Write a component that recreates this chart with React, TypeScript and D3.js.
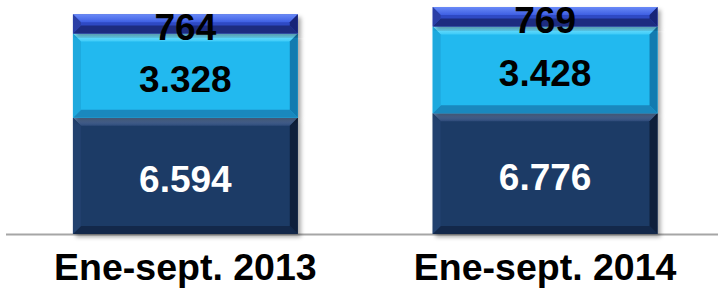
import React from "react";
import * as d3 from "d3";

const categories = ["Ene-sept. 2013", "Ene-sept. 2014"];
const seriesKeys = ["base", "mid", "top"];
const baseValues = [6594, 6776];
const midValues = [3328, 3428];
const topValues = [764, 769];

const W = 718;
const H = 288;

const palettes: Record<string, any> = {
  base: { face: "#1F3B66", top: "#6482AE", topInner: "#2E4B7A", left: "#22416E", right: "#0E1F3B", bottom: "#13284A", text: "#FFFFFF" },
  mid: { face: "#22B9EF", top: "#86E6FF", topInner: "#3CCBF8", left: "#1EA9DE", right: "#127BB0", bottom: "#1A88BE", text: "#000000" },
  top: { face: "#2E48C4", top: "#6A8AF7", topInner: "#3E5FE3", left: "#2B3FA6", right: "#172478", bottom: "#1D2C80", text: "#000000" },
};

const fmt = d3.formatLocale({ decimal: ",", thousands: ".", grouping: [3], currency: ["", ""] }).format(",d");

export default function App() {
  const data = categories.map((c, i) => ({ cat: c, base: baseValues[i], mid: midValues[i], top: topValues[i] }));
  const stack = d3.stack<any>().keys(seriesKeys);
  const layers = stack(data);

  const x = d3.scaleBand<string>().domain(categories).range([5.5, 725]).paddingInner(0.375).paddingOuter(0.1875);
  const y = d3.scaleLinear().domain([2000, 11250]).range([234, 0]);

  const font = "'Liberation Sans', Arial, sans-serif";

  return (
    <div style={{ position: "fixed", left: 0, top: 0, width: W, height: H, background: "#fff" }}>
      <svg width={W} height={H} style={{ display: "block" }}>
        <defs>
          <filter id="shadow" x="-10%" y="-10%" width="130%" height="130%">
            <feDropShadow dx="3" dy="3" stdDeviation="2" floodColor="#000" floodOpacity="0.35" />
          </filter>
          {seriesKeys.map((k) => (
            <linearGradient key={k} id={`tg-${k}`} x1="0" y1="0" x2="0" y2="1">
              <stop offset="0" stopColor={palettes[k].top} />
              <stop offset="1" stopColor={palettes[k].topInner} />
            </linearGradient>
          ))}
        </defs>
        <line x1={6} x2={718} y1={234.5} y2={234.5} stroke="#A6A6A6" strokeWidth={2} />
        {layers.map((layer) => {
          const k = layer.key;
          const p = palettes[k];
          return (
            <g key={k}>
              {layer.map((d, i) => {
                const x0 = x(categories[i]) as number;
                const x1 = x0 + x.bandwidth();
                const lo = Math.max(d[0], y.domain()[0]);
                const y0 = y(d[1]);
                const y1 = y(lo);
                const b = Math.min(8, (y1 - y0) * 0.45);
                return (
                  <g key={i}>
                    <rect x={x0} y={y0} width={x1 - x0} height={y1 - y0} fill={p.face} filter="url(#shadow)" />
                    <polygon points={`${x0},${y0} ${x1},${y0} ${x1 - b},${y0 + b} ${x0 + b},${y0 + b}`} fill={`url(#tg-${k})`} />
                    <polygon points={`${x0},${y1} ${x1},${y1} ${x1 - b},${y1 - b} ${x0 + b},${y1 - b}`} fill={p.bottom} />
                    <polygon points={`${x0},${y0} ${x0 + b},${y0 + b} ${x0 + b},${y1 - b} ${x0},${y1}`} fill={p.left} />
                    <polygon points={`${x1},${y0} ${x1 - b},${y0 + b} ${x1 - b},${y1 - b} ${x1},${y1}`} fill={p.right} />
                  </g>
                );
              })}
            </g>
          );
        })}
        {layers.map((layer) => {
          const k = layer.key;
          const p = palettes[k];
          return (
            <g key={`l-${k}`}>
              {layer.map((d, i) => {
                const cx = (x(categories[i]) as number) + x.bandwidth() / 2;
                const lo = Math.max(d[0], y.domain()[0]);
                const mid = (y(d[1]) + y(lo)) / 2;
                const v = (data[i] as any)[k];
                return (
                  <text key={i} x={cx} y={mid + 16} textAnchor="middle" fontFamily={font} fontWeight="bold" fontSize={37} fill={p.text}>
                    {fmt(v)}
                  </text>
                );
              })}
            </g>
          );
        })}
        {categories.map((c) => (
          <text key={c} x={(x(c) as number) + x.bandwidth() / 2} y={279.5} textAnchor="middle" fontFamily={font} fontWeight="bold" fontSize={37.5} fill="#000">
            {c}
          </text>
        ))}
      </svg>
    </div>
  );
}
